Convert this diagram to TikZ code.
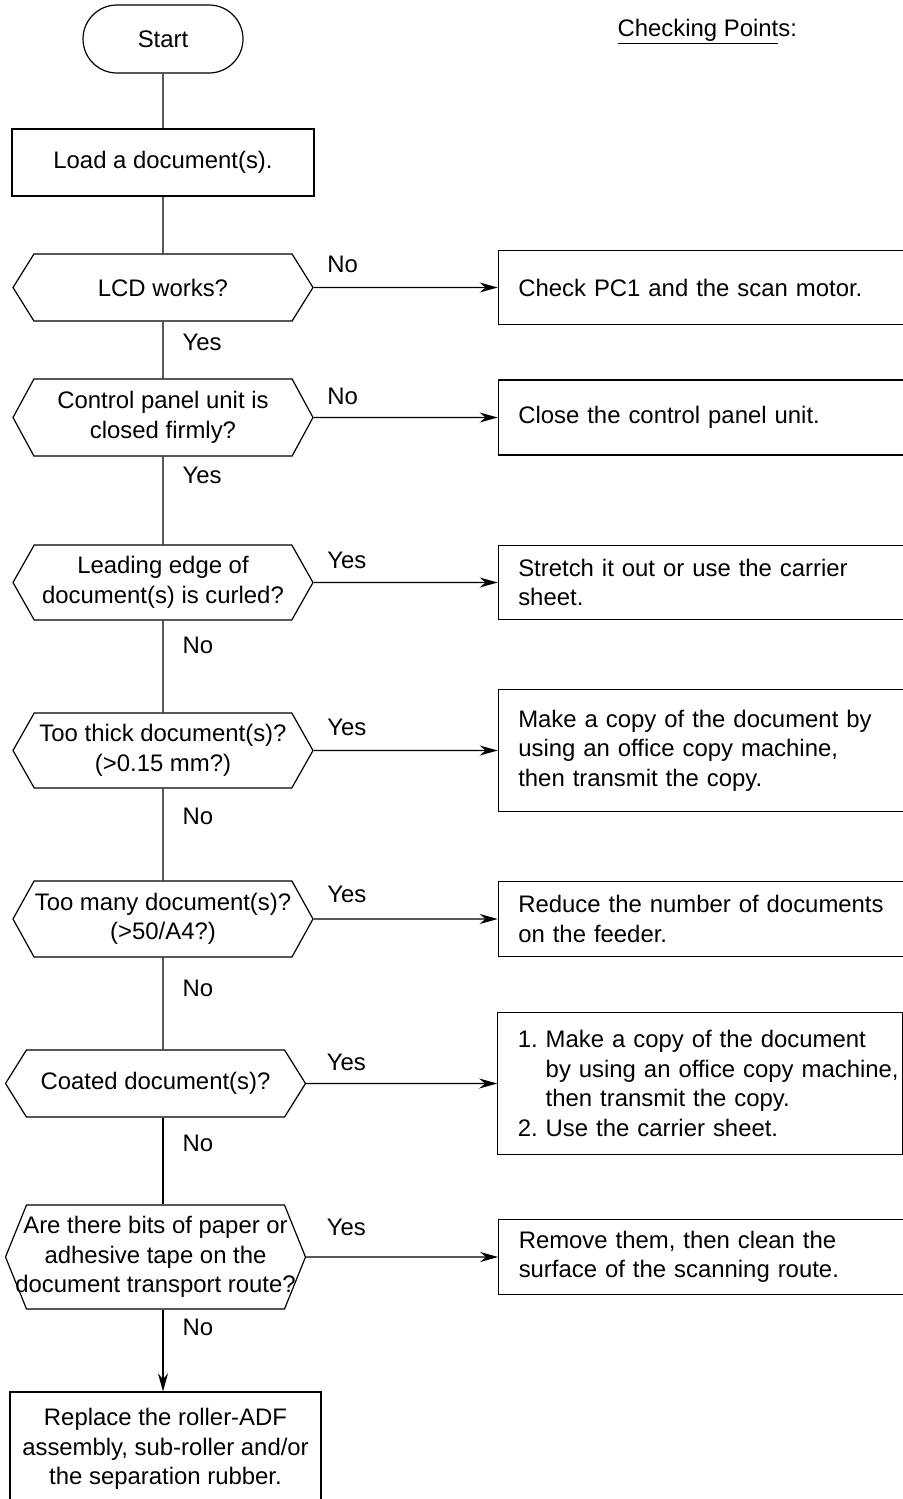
\documentclass[tikz,border=0pt]{standalone}
\usepackage{fontspec}
\setmainfont{Liberation Sans}
\usepackage{tikz}
\usetikzlibrary{positioning,arrows.meta,shapes.misc,shapes.symbols}
\tikzset{
  terminal/.style = {draw, rounded rectangle, minimum width=80pt, minimum height=34pt, inner sep=0pt},
  process/.style  = {draw, rectangle, align=center, inner sep=0pt},
  decision/.style = {draw, signal, signal to=east and west, align=center, inner sep=0pt,
                     minimum width=150pt},
  check/.style    = {draw, rectangle, align=left, text width=182.5pt, inner xsep=10pt,
                     inner ysep=0pt, minimum width=202.5pt},
  flow/.style     = {-{Stealth[length=9pt,width=5pt]}},
  lbl/.style      = {inner sep=0pt},
}

\begin{document}
\begin{tikzpicture}[x=0.5pt, y=-0.5pt, line width=0.6pt,
  every node/.style={font=\fontsize{11.95pt}{14.75pt}\selectfont}]
\useasboundingbox (0,0) rectangle (903,1499);

% ---- main column ----
\node[terminal] (start) at (163,39) {Start};
\node[process, minimum width=151pt, minimum height=33.5pt, below=27.4pt of start] (load) {Load a document(s).};
\node[decision, minimum height=33.5pt, signal pointer angle=116, below=28.4pt of load] (lcd) {LCD works?};
\node[decision, minimum height=38.5pt, signal pointer angle=123, below=28.4pt of lcd] (panel)
  {Control panel unit is\\closed firmly?};
\node[decision, minimum height=37.5pt, signal pointer angle=121, below=43.9pt of panel] (curl)
  {Leading edge of\\document(s) is curled?};
\node[decision, minimum height=37.5pt, signal pointer angle=121, below=45.9pt of curl] (thick)
  {Too thick document(s)?\\(>0.15 mm?)};
\node[decision, minimum height=38pt, signal pointer angle=122, below=45.9pt of thick] (many)
  {Too many document(s)?\\(>50/A4?)};
\node[decision, minimum height=33.5pt, signal pointer angle=116, below=45.9pt of many, xshift=-3.75pt] (coat)
  {Coated document(s)?};
\node[decision, minimum height=52pt, signal pointer angle=136, inner xsep=-11.5pt, below=43.4pt of coat] (bits)
  {Are there bits of paper or\\adhesive tape on the\\document transport route?};
\node[process, minimum width=155.5pt, minimum height=57pt, below=40.9pt of bits, xshift=5pt] (fin)
  {Replace the roller-ADF\\assembly, sub-roller and/or\\the separation rubber.};

% ---- checking points ----
\node[lbl, anchor=base west] (title) at (617,36) {\underline{Checking Point}s:};
\node[check, minimum height=37pt, right=92pt of lcd] (pc1) {\mbox{Check PC1 and the scan motor.}};
\node[check, minimum height=37.5pt, right=92pt of panel] (close) {Close the control panel unit.};
\node[check, minimum height=37pt, right=92pt of curl] (stretch)
  {Stretch it out or use the carrier\\sheet.};
\node[check, minimum height=61pt, right=92pt of thick] (copy)
  {\mbox{Make a copy of the document by}\\using an office copy machine,\\then transmit the copy.};
\node[check, minimum height=37.5pt, right=92pt of many] (reduce)
  {\mbox{Reduce the number of documents}\\on the feeder.};
\node[check, minimum height=71pt, right=95.5pt of coat] (carrier)
  {1.~Make a copy of the document\\\phantom{1.~}\mbox{by using an office copy machine,}\\\phantom{1.~}then transmit the copy.\\2.~Use the carrier sheet.};
\node[check, minimum height=37.5pt, right=96pt of bits] (remove)
  {Remove them, then clean the\\\mbox{surface of the scanning route.}};

% ---- connectors ----
\draw (start) -- (load);
\draw (load) -- (lcd);
\draw (lcd) -- node[lbl, anchor=west, xshift=9.5pt, pos=0.36] (y1) {Yes} (panel);
\draw (panel) -- node[lbl, anchor=west, xshift=9.5pt, pos=0.21] (y2) {Yes} (curl);
\draw (curl) -- node[lbl, anchor=west, xshift=9.5pt, pos=0.27] (n3) {No} (thick);
\draw (thick) -- node[lbl, anchor=west, xshift=9.5pt, pos=0.3] (n4) {No} (many);
\draw (many) -- node[lbl, anchor=west, xshift=9.5pt, pos=0.33] (n5) {No} (many |- coat.north);
\draw (many |- coat.south) -- node[lbl, anchor=west, xshift=9.5pt, pos=0.3] (n6) {No} (many |- bits.north);
\draw[flow] (many |- bits.south) -- node[lbl, anchor=west, xshift=9.5pt, pos=0.22] (n7) {No} (many |- fin.north);

\draw[flow] (lcd) -- node[lbl, pos=0, anchor=west, xshift=6.5pt, yshift=11.5pt] (n1) {No} (pc1);
\draw[flow] (panel) -- node[lbl, pos=0, anchor=west, xshift=6.5pt, yshift=10.5pt] (n2) {No} (close);
\draw[flow] (curl) -- node[lbl, pos=0, anchor=west, xshift=6.5pt, yshift=11pt] (y3) {Yes} (stretch);
\draw[flow] (thick) -- node[lbl, pos=0, anchor=west, xshift=6.5pt, yshift=11.5pt] (y4) {Yes} (copy);
\draw[flow] (many) -- node[lbl, pos=0, anchor=west, xshift=6.5pt, yshift=12.5pt] (y5) {Yes} (reduce);
\draw[flow] (coat) -- node[lbl, pos=0, anchor=west, xshift=10pt, yshift=10.5pt] (y6) {Yes} (carrier);
\draw[flow] (bits) -- node[lbl, pos=0, anchor=west, xshift=10pt, yshift=15pt] (y7) {Yes} (remove);

\end{tikzpicture}
\end{document}
